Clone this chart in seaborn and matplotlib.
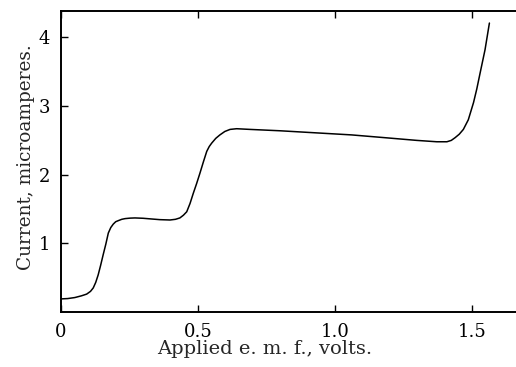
import matplotlib
matplotlib.use("Agg")
import matplotlib.pyplot as plt
import seaborn as sns
import pandas as pd

volts = [0.0, 0.025, 0.051, 0.075, 0.094, 0.108, 0.118, 0.127, 0.136, 0.145, 0.154, 0.164,
         0.173, 0.182, 0.191, 0.200, 0.209, 0.222, 0.234, 0.252, 0.27, 0.30, 0.33, 0.361,
         0.398, 0.418, 0.434, 0.447, 0.459, 0.471, 0.483, 0.495, 0.507, 0.520, 0.532,
         0.541, 0.55, 0.565, 0.58, 0.598, 0.617, 0.641, 0.69, 0.80, 0.93, 1.06, 1.18,
         1.298, 1.371, 1.408, 1.424, 1.438, 1.453, 1.468, 1.486, 1.505, 1.517, 1.529,
         1.547, 1.563]
current = [0.19, 0.195, 0.21, 0.235, 0.26, 0.30, 0.35, 0.43, 0.54, 0.68, 0.83, 0.99,
           1.15, 1.23, 1.28, 1.315, 1.33, 1.35, 1.36, 1.367, 1.37, 1.365, 1.355, 1.345,
           1.34, 1.35, 1.37, 1.41, 1.46, 1.58, 1.73, 1.87, 2.02, 2.19, 2.34,
           2.41, 2.46, 2.53, 2.58, 2.63, 2.66, 2.67, 2.66, 2.64, 2.61, 2.58, 2.54,
           2.50, 2.48, 2.48, 2.50, 2.54, 2.59, 2.66, 2.80, 3.05, 3.25, 3.48,
           3.82, 4.21]

x_ticks = [0, 0.5, 1.0, 1.5]
x_tick_labels = ["0", "0.5", "1.0", "1.5"]
y_ticks = [1, 2, 3, 4]
y_tick_labels = ["1", "2", "3", "4"]

df = pd.DataFrame({"volts": volts, "current": current})

sns.set_style("ticks")
plt.rcParams["font.family"] = ["DejaVu Serif"]

fig = plt.figure(figsize=(5.16, 3.67), dpi=100)
ax = fig.add_axes([0.118, 0.150, 0.882, 0.819])
sns.lineplot(data=df, x="volts", y="current", ax=ax, color="black", linewidth=1.1, sort=False)

ax.set_xlim(0, 1.66)
ax.set_ylim(0, 4.38)
ax.set_xticks(x_ticks)
ax.set_xticklabels(x_tick_labels)
ax.set_yticks(y_ticks)
ax.set_yticklabels(y_tick_labels)
ax.tick_params(axis="both", direction="in", length=5, width=1, labelsize=13, colors="black")
ax.tick_params(axis="x", top=True, pad=8)
ax.tick_params(axis="y", pad=8)
ax.spines["right"].set_visible(False)
for s in ["left", "bottom", "top"]:
    ax.spines[s].set_linewidth(1.4)
    ax.spines[s].set_color("black")
ax.set_xlabel("Applied e. m. f., volts.", fontsize=14)
ax.set_ylabel("Current, microamperes.", fontsize=13.3)
ax.xaxis.set_label_coords(0.448, -0.092)
ax.yaxis.set_label_coords(-0.057, 0.516)

fig.savefig("out.png", dpi=100)
